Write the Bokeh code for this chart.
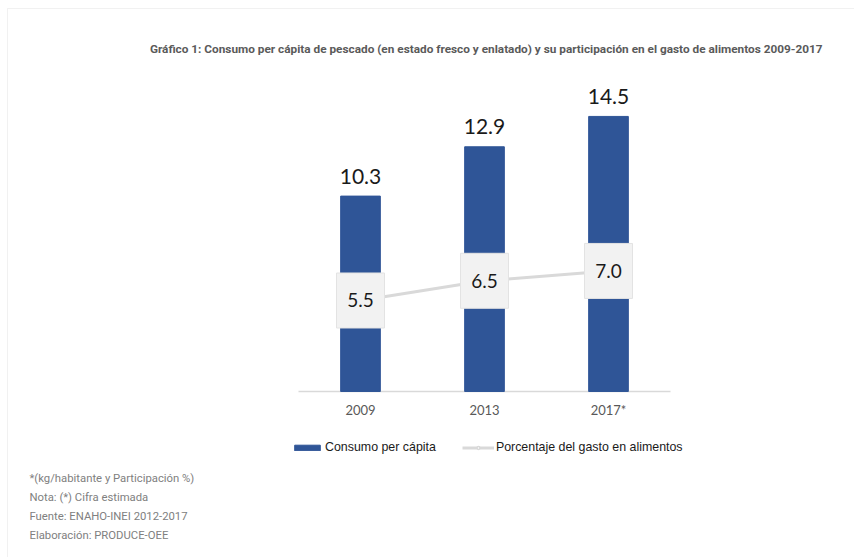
from bokeh.plotting import figure
from bokeh.models import (ColumnDataSource, Range1d, LabelSet, Label,
                          Legend, LegendItem, PolyAnnotation)
from bokeh.core.properties import value
from bokeh.embed import file_html
from bokeh.resources import INLINE

years = ["2009", "2013", "2017*"]
consumo = [10.3, 12.9, 14.5]
porcentaje = [5.5, 6.5, 7.0]
consumo_labels = ["10.3", "12.9", "14.5"]
porcentaje_labels = ["5.5", "6.5", "7.0"]

title_text = "Gráfico 1: Consumo per cápita de pescado (en estado fresco y enlatado) y su participación en el gasto de alimentos 2009-2017"
notes = ["*(kg/habitante y Participación %)",
         "Nota: (*) Cifra estimada",
         "Fuente: ENAHO-INEI 2012-2017",
         "Elaboración: PRODUCE-OEE"]

W, H = 854, 557
xi = list(range(len(years)))

src = ColumnDataSource(dict(x=xi, year=years, c=consumo, p=porcentaje,
                            cl=consumo_labels, pl=porcentaje_labels,
                            zero=[0] * len(years)))

# frame covers the whole canvas; ranges chosen so the plot area sits where the reference has it
p = figure(width=W, height=H, x_range=Range1d(-2.9032, 3.9839),
           y_range=Range1d(-8.751, 20.611), output_backend="svg", toolbar_location=None,
           min_border=0)
p.extra_y_ranges = {"pct": Range1d(-7.546, 20.728)}
p.outline_line_color = None
p.background_fill_color = "white"
p.border_fill_color = "white"
p.xaxis.visible = False
p.yaxis.visible = False
p.xgrid.visible = False
p.ygrid.visible = False

# category axis baseline and labels
p.segment(x0=[-0.5], y0=[0], x1=[len(years) - 0.5], y1=[0], line_color="#d9d9d9", line_width=1.5)
p.add_layout(LabelSet(x="x", y="zero", text="year", source=src, text_align="center",
                      text_baseline="middle", y_offset=-19, text_font=value("Lato"),
                      text_font_size=value("13px"), text_color="#595959"))

bars = p.vbar(x="x", top="c", width=0.32, source=src, color="#2f5597")
line = p.line(x="x", y="p", source=src, y_range_name="pct", line_color="#d9d9d9", line_width=3)
dots = p.scatter(x="x", y="p", source=src, y_range_name="pct", size=6,
                 fill_color="white", line_color="#d9d9d9", line_width=1.5)
p.rect(x="x", y="p", width=48, height=55, width_units="screen", height_units="screen",
       source=src, y_range_name="pct", fill_color="#f2f2f2", line_color="#e3e3e3")

p.add_layout(LabelSet(x="x", y="c", text="cl", source=src, text_align="center",
                      text_baseline="middle", y_offset=20, text_font=value("Lato"),
                      text_font_size=value("21px"), text_color="#1a1a1a"))
p.add_layout(LabelSet(x="x", y="p", text="pl", source=src, y_range_name="pct",
                      text_align="center", text_baseline="middle", text_font=value("Lato"),
                      text_font_size=value("19px"), text_color="#1a1a1a"))

def sy(cy):
    return H - cy

# page border (top and left lines)
p.add_layout(PolyAnnotation(xs=[7, 7, W + 20, W + 20],
                            ys=[-20, sy(8), sy(8), -20],
                            xs_units="screen", ys_units="screen",
                            fill_color=None, fill_alpha=0, line_color="#cfcfcf", line_width=1))

p.add_layout(Label(x=822, y=sy(48), x_units="screen", y_units="screen", text=title_text,
                   text_align="right", text_baseline="middle", text_font="Roboto",
                   text_font_style="bold", text_font_size="11.8px", text_color="#5a5a5a"))

for i, t in enumerate(notes):
    p.add_layout(Label(x=29, y=sy(478 + 19 * i), x_units="screen", y_units="screen",
                       text=t, text_align="left", text_baseline="middle",
                       text_font="Roboto", text_font_size="11.3px", text_color="#808080"))

legend = Legend(items=[LegendItem(label="Consumo per cápita", renderers=[bars]),
                       LegendItem(label="Porcentaje del gasto en alimentos", renderers=[line, dots])],
                orientation="horizontal", location=(291, sy(454)),
                glyph_width=32, glyph_height=7, label_standoff=2, spacing=26,
                padding=0, margin=0, border_line_color=None, background_fill_alpha=0,
                label_text_font="Liberation Sans", label_text_font_size="12.4px",
                label_text_color="#1a1a1a")
p.add_layout(legend, "center")

open("out.html", "w").write(file_html(p, INLINE))
